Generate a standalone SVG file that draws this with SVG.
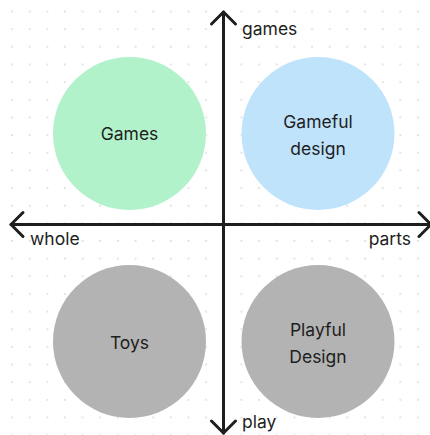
<svg xmlns="http://www.w3.org/2000/svg" width="430" height="435" viewBox="0 0 430 435">
<defs>
<pattern id="dots" x="3.2" y="2.7" width="17.65" height="17.65" patternUnits="userSpaceOnUse">
<circle cx="8.8" cy="8.8" r="1" fill="#dcdcdc"/>
</pattern>
</defs>
<style>
.lbl{font-family:Inter,"Noto Sans",sans-serif;font-size:17.5px;font-weight:400;fill:#1e1e1e}
.ctr{text-anchor:middle}
.ax{stroke:#1e1e1e;stroke-width:3;fill:none;stroke-linecap:round;stroke-linejoin:round}
</style>
<rect width="430" height="435" fill="#ffffff"/>
<rect width="430" height="435" fill="url(#dots)"/>
<g id="games-node">
<circle cx="129.5" cy="133.5" r="76.5" fill="#b2f2cb"/>
<text class="lbl ctr" x="129.5" y="140">Games</text>
</g>
<g id="gameful-node">
<circle cx="318" cy="133.5" r="76.5" fill="#c0e3fc"/>
<text class="lbl ctr" x="318" y="128">Gameful</text>
<text class="lbl ctr" x="318" y="155">design</text>
</g>
<g id="toys-node">
<circle cx="129.5" cy="341.5" r="76.5" fill="#b3b3b3"/>
<text class="lbl ctr" x="129.5" y="349">Toys</text>
</g>
<g id="playful-node">
<circle cx="318" cy="341.5" r="76.5" fill="#b3b3b3"/>
<text class="lbl ctr" x="318" y="336">Playful</text>
<text class="lbl ctr" x="318" y="363">Design</text>
</g>
<g id="connectors">
<path class="ax" d="M223.5 12 V433"/>
<path class="ax" d="M211.5 24 L223.5 12 L235.5 24"/>
<path class="ax" d="M211.5 421 L223.5 433 L235.5 421"/>
<path class="ax" d="M11 224.5 H431"/>
<path class="ax" d="M23 212.5 L11 224.5 L23 236.5"/>
<path class="ax" d="M419 212.5 L431 224.5 L419 236.5"/>
</g>
<g id="axis-labels">
<text class="lbl" x="242" y="35">games</text>
<text class="lbl" x="30" y="245">whole</text>
<text class="lbl" x="411" y="245" text-anchor="end">parts</text>
<text class="lbl" x="242" y="428">play</text>
</g>
</svg>
